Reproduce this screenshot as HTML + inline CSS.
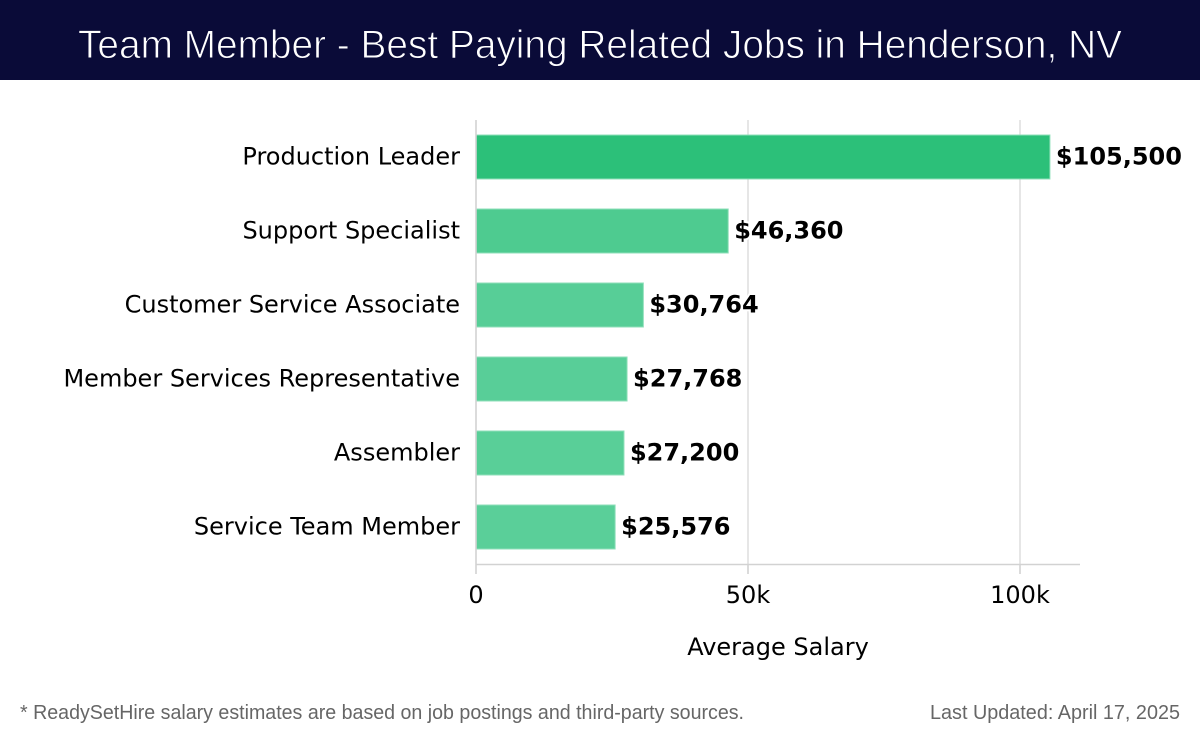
<!DOCTYPE html>
<html lang="en">
<head>
<meta charset="utf-8">
<title>Team Member - Best Paying Related Jobs in Henderson, NV</title>
<style>
html,body{margin:0;padding:0;background:#fff;width:1200px;height:740px;overflow:hidden}
svg{display:block;font-family:"DejaVu Sans",sans-serif}
.brand{font-family:"Liberation Sans",sans-serif}
</style>
</head>
<body>
<svg id="chart" width="1200" height="740" viewBox="0 0 1200 740">
  <rect x="0" y="0" width="1200" height="740" fill="#fff"/>
  <rect x="0" y="0" width="1200" height="80" fill="#0a0b38"/>
  <text class="brand" x="600" y="58" text-anchor="middle" font-size="40" fill="#fff" stroke="#0a0b38" stroke-width="0.9" textLength="1044" lengthAdjust="spacingAndGlyphs">Team Member - Best Paying Related Jobs in Henderson, NV</text>
  <g id="grid"></g>
  <g id="bars"></g>
  <g id="axis"></g>
  <g id="cats"></g>
  <g id="vals"></g>
  <text x="778" y="655" text-anchor="middle" font-size="24" fill="#000">Average Salary</text>
  <text class="brand" x="20" y="719" font-size="20" fill="#666" textLength="724" lengthAdjust="spacingAndGlyphs">* ReadySetHire salary estimates are based on job postings and third-party sources.</text>
  <text class="brand" x="1180" y="719" text-anchor="end" font-size="20" fill="#666" textLength="250" lengthAdjust="spacingAndGlyphs">Last Updated: April 17, 2025</text>
</svg>
<script>
const categories = ["Production Leader", "Support Specialist", "Customer Service Associate", "Member Services Representative", "Assembler", "Service Team Member"];
const salaries = [105500, 46360, 30764, 27768, 27200, 25576];
const valueLabels = ["$105,500", "$46,360", "$30,764", "$27,768", "$27,200", "$25,576"];
const tickValues = [0, 50000, 100000];
const tickLabels = ["0", "50k", "100k"];

const NS = "http://www.w3.org/2000/svg";
const plot = { left: 476, right: 1080, top: 120, bottom: 564 };
const domainMax = 111029;
const xScale = v => plot.left + (v / domainMax) * (plot.right - plot.left);
const band = (plot.bottom - plot.top) / categories.length;
const yCenter = i => plot.top + band * (i + 0.5);
const barHeight = 44;

function make(tag, attrs, parent) {
  const el = document.createElementNS(NS, tag);
  for (const k in attrs) el.setAttribute(k, attrs[k]);
  parent.appendChild(el);
  return el;
}
function barColor(v) {
  const t = Math.min(1, Math.max(0, (v - 25000) / 80000));
  const light = [90, 207, 153], dark = [44, 192, 121];
  const c = light.map((l, i) => Math.round(l + (dark[i] - l) * t));
  return "rgb(" + c.join(",") + ")";
}

const grid = document.getElementById("grid");
const axis = document.getElementById("axis");
const bars = document.getElementById("bars");
const cats = document.getElementById("cats");
const vals = document.getElementById("vals");

tickValues.forEach((t, i) => {
  const x = xScale(t);
  if (t !== 0) {
    const g = make("line", { x1: x, x2: x, y1: plot.top, y2: plot.bottom, stroke: "#e6e6e6", "stroke-width": 2 }, grid);
    
    
  }
  const tick = make("line", { x1: x, x2: x, y1: t === 0 ? plot.top : plot.bottom, y2: plot.bottom + 10, stroke: "#d2d2d2", "stroke-width": 1.6 }, axis);
  
  
  const label = make("text", { x: x, y: 603, "text-anchor": "middle", "font-size": 24, fill: "#000" }, axis);
  label.textContent = tickLabels[i];
  
  
});
const domainLine = make("line", { x1: plot.left, x2: plot.right, y1: plot.bottom + 0.5, y2: plot.bottom + 0.5, stroke: "#d2d2d2", "stroke-width": 1.4 }, axis);



salaries.forEach((v, i) => {
  const cy = yCenter(i);
  const x0 = xScale(0);
  const rect = make("rect", {
    x: x0, y: cy - barHeight / 2,
    width: xScale(v) - x0, height: barHeight,
    fill: barColor(v), stroke: "#8fdfba", "stroke-width": 1
  }, bars);
  
  

  const cat = make("text", { x: plot.left - 16, y: cy + 7.5, "text-anchor": "end", "font-size": 24, fill: "#000" }, cats);
  cat.textContent = categories[i];
  
  

  const val = make("text", {
    x: xScale(v) + 6, y: cy + 7.5, "font-size": 24, "font-weight": "bold", fill: "#000",
    stroke: "#fff", "stroke-width": 4, "paint-order": "stroke", "stroke-linejoin": "round"
  }, vals);
  val.textContent = valueLabels[i];
  
  
});
</script>
</body>
</html>
